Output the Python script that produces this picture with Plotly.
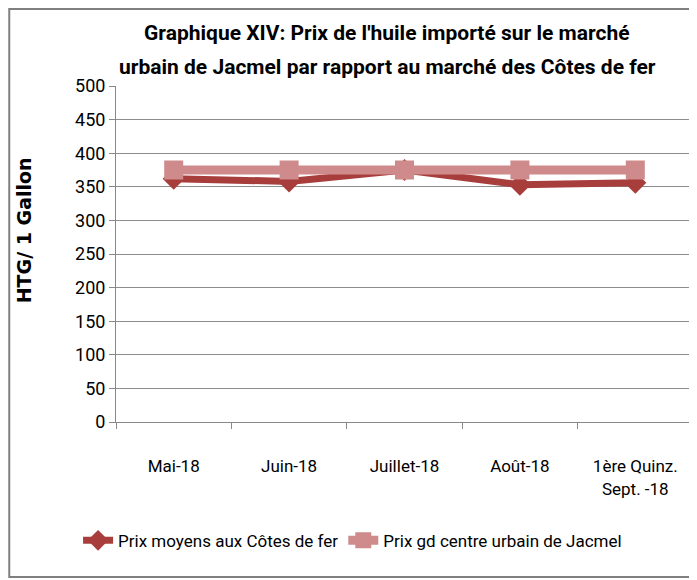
import plotly.graph_objs as go

mois = ['Mai-18', 'Juin-18', 'Juillet-18', 'Août-18', '1ère Quinz.<br>Sept. -18']
prix_cotes_de_fer = [362, 358, 375, 353, 356]
prix_jacmel = [375, 375, 375, 375, 375]

font_cond = 'Roboto, Arial Narrow, sans-serif'

trace0 = go.Scatter(x=mois,
                    y=prix_cotes_de_fer,
                    name='Prix moyens aux Côtes de fer',
                    mode='lines+markers',
                    line=dict(color='rgb(168,62,60)', width=7),
                    marker=dict(symbol='diamond', size=17, color='rgb(168,62,60)'))

trace1 = go.Scatter(x=mois,
                    y=prix_jacmel,
                    name='Prix gd centre urbain de Jacmel',
                    mode='lines+markers',
                    line=dict(color='rgb(207,139,139)', width=9),
                    marker=dict(symbol='square', size=19, color='rgb(207,139,139)'))

# the page body adds an 8px offset, so margins are reduced accordingly
layout = go.Layout(
    width=697,
    height=580,
    paper_bgcolor='white',
    plot_bgcolor='white',
    margin=dict(l=108, r=12, t=78, b=166),
    xaxis=dict(tickson='boundaries', ticks='outside', ticklen=6, tickcolor='#888',
               showline=True, linecolor='#888', showgrid=False, automargin=False,
               tickfont=dict(family=font_cond, size=17, color='black'),
               ticklabelstandoff=29,
               range=[-0.5, 4.5]),
    yaxis=dict(range=[0, 500], dtick=50, ticks='outside', ticklen=6, tickcolor='#888',
               showline=True, linecolor='#888', gridcolor='#8c8c8c', gridwidth=1,
               zeroline=False, automargin=False,
               tickfont=dict(family=font_cond, size=18, color='black')),
    legend=dict(orientation='h', x=0.41, xanchor='center', y=-0.30, yanchor='top',
                font=dict(family=font_cond, size=17, color='black'),
                itemwidth=30),
    annotations=[
        dict(text='<b>Graphique XIV: Prix de l\'huile importé sur le marché</b>',
             xref='paper', yref='paper', x=0.47, y=1.158, xanchor='center', yanchor='middle',
             showarrow=False, font=dict(family=font_cond, size=21, color='black')),
        dict(text='<b>urbain de Jacmel par rapport au marché des Côtes de fer</b>',
             xref='paper', yref='paper', x=0.47, y=1.057, xanchor='center', yanchor='middle',
             showarrow=False, font=dict(family=font_cond, size=21, color='black')),
        dict(text='<b>HTG/ 1 Gallon</b>', textangle=-90,
             xref='paper', yref='paper', x=-0.158, y=0.57, xanchor='center', yanchor='middle',
             showarrow=False,
             font=dict(family='DejaVu Sans, sans-serif', size=19, color='black')),
    ],
    shapes=[dict(type='rect', xref='paper', yref='paper',
                 x0=-0.185, x1=1.0017, y0=-0.461, y1=1.229,
                 line=dict(color='#7f7f7f', width=2))]
)

fig = go.Figure(data=[trace0, trace1], layout=layout)
fig.write_html("out.html")
